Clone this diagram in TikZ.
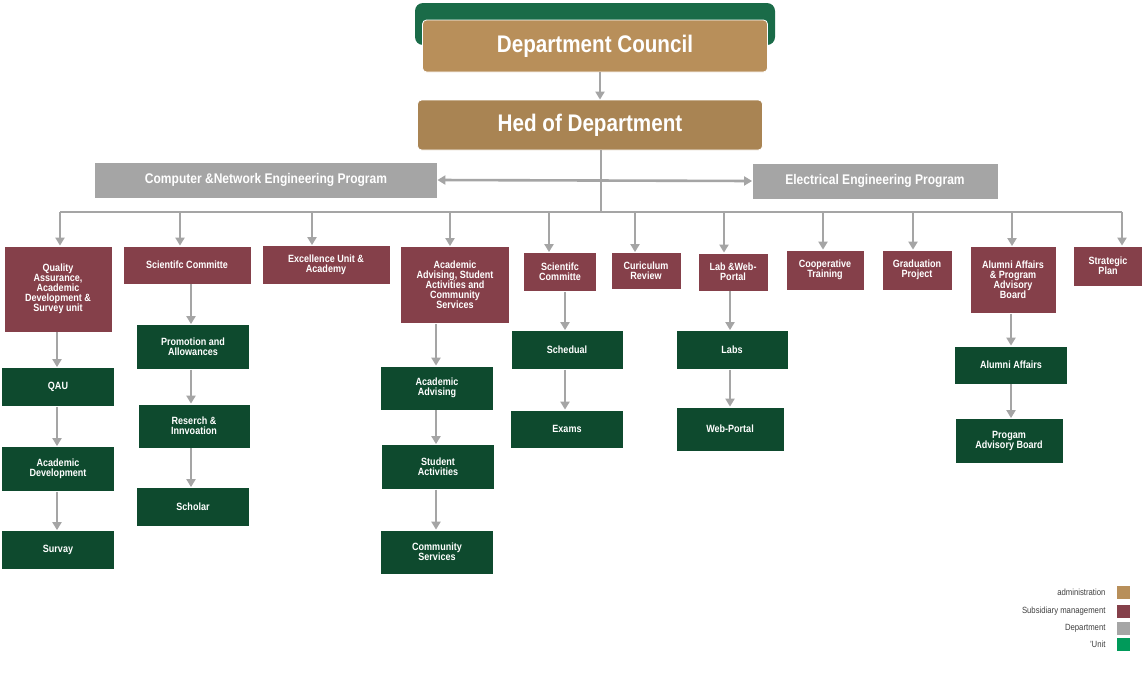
\documentclass[tikz,border=0pt]{standalone}
\usepackage{fontspec}
\setmainfont{Liberation Sans}[FakeStretch=0.86]
\usetikzlibrary{arrows.meta}
\definecolor{admin}{HTML}{B88F5A}
\definecolor{subs}{HTML}{85404A}
\definecolor{dept}{HTML}{A5A5A5}
\definecolor{unit}{HTML}{0E4A2E}
\definecolor{unitleg}{HTML}{009A5A}
\definecolor{topgreen}{HTML}{1A6B48}
\tikzset{
  box/.style={draw=white, line width=0.8pt, text=white, font=\bfseries\fontsize{10.5}{10}\selectfont, align=center, inner sep=1pt},
  sub/.style={box, fill=subs},
  un/.style={box, fill=unit},
  arr/.style={draw=dept, line width=2.6pt, -{Triangle[length=8pt,width=9pt]}},
}
\begin{document}
\begin{tikzpicture}[x=1pt,y=-1pt]
    \useasboundingbox[fill=white] (0,0) rectangle (1147,686);
    %top
    \fill[topgreen, rounded corners=8pt] (415,3) rectangle (775,45);
    \node[box, fill=admin, rounded corners=4pt, minimum width=345, minimum height=52, font=\bfseries\fontsize{24}{24}\selectfont] (council) at (595,46) {Department Council};
    \node[box, fill=admin!92!black, rounded corners=4pt, minimum width=345, minimum height=50, font=\bfseries\fontsize{24}{24}\selectfont] (head) at (590,125) {Hed of Department};
    \draw[arr] (council.south -| 600,0) -- (head.north -| 600,0);
    %programs
    \node[box, draw=none, fill=dept, minimum width=342, minimum height=35, font=\bfseries\fontsize{14}{14}\selectfont] (cne) at (266,180) {Computer \&Network Engineering Program};
    \node[box, draw=none, fill=dept, minimum width=245, minimum height=35, font=\bfseries\fontsize{14}{14}\selectfont] (ee) at (875,181) {Electrical Engineering Program};
    \coordinate (hub) at (601,212);
    \draw[dept, line width=2.6pt] (head.south -| hub) -- (hub);
    \draw[dept, line width=2.6pt] (60,212) -- (1122,212);
    \draw[draw=dept, line width=2.6pt, {Triangle[length=8pt,width=9pt]}-{Triangle[length=8pt,width=9pt]}] (cne.east) -- (ee.west);
    %subsidiary
    \node[sub, minimum width=108, minimum height=86] (qa) at (58,289) {Quality\\Assurance,\\Academic\\Development \&\\Survey unit};
    \node[sub, minimum width=128, minimum height=38] (sc1) at (187,265) {Scientifc Committe};
    \node[sub, minimum width=128, minimum height=39] (exc) at (326,265) {Excellence Unit \&\\Academy};
    \node[sub, minimum width=109, minimum height=77] (adv) at (455,285) {Academic\\Advising, Student\\Activities and\\Community\\Services};
    \node[sub, minimum width=73, minimum height=39] (sc2) at (560,272) {Scientifc\\Committe};
    \node[sub, minimum width=70, minimum height=37] (cur) at (646,271) {Curiculum\\Review};
    \node[sub, minimum width=70, minimum height=38] (lab) at (733,272) {Lab \&Web-\\Portal};
    \node[sub, minimum width=78, minimum height=40] (coop) at (825,270) {Cooperative\\Training};
    \node[sub, minimum width=70, minimum height=40] (grad) at (917,270) {Graduation\\Project};
    \node[sub, minimum width=86, minimum height=67] (alum) at (1013,280) {Alumni Affairs\\\& Program\\Advisory\\Board};
    \node[sub, minimum width=69, minimum height=40] (plan) at (1108,266) {Strategic\\Plan};
    \foreach \n/\x in {qa/60, sc1/180, exc/312, adv/450, sc2/549, cur/635, lab/724, coop/823, grad/913, alum/1012, plan/1122}{
        \coordinate (d\n) at (\x,212);
        \draw[arr] (d\n) -- (\n.north -| d\n);
    }
    %units
    \node[un, minimum width=113, minimum height=39] (qau) at (58,387) {QAU};
    \node[un, minimum width=113, minimum height=45] (acd) at (58,469) {Academic\\Development};
    \node[un, minimum width=113, minimum height=39] (surv) at (58,550) {Survay};
    \node[un, minimum width=113, minimum height=45] (prom) at (193,347) {Promotion and\\Allowances};
    \node[un, minimum width=112, minimum height=44] (res) at (194,426) {Reserch \&\\Innvoation};
    \node[un, minimum width=113, minimum height=39] (sch) at (193,507) {Scholar};
    \node[un, minimum width=113, minimum height=44] (aa) at (437,388) {Academic\\Advising};
    \node[un, minimum width=113, minimum height=45] (sa) at (438,467) {Student\\Activities};
    \node[un, minimum width=113, minimum height=44] (cs) at (437,552) {Community\\Services};
    \node[un, minimum width=112, minimum height=39] (sched) at (567,350) {Schedual};
    \node[un, minimum width=113, minimum height=38] (exam) at (567,429) {Exams};
    \node[un, minimum width=112, minimum height=39] (labs) at (732,350) {Labs};
    \node[un, minimum width=108, minimum height=44] (web) at (730,429) {Web-Portal};
    \node[un, minimum width=113, minimum height=38] (alu) at (1011,365) {Alumni Affairs};
    \node[un, minimum width=108, minimum height=45] (pab) at (1009,441) {Progam\\Advisory Board};
    \foreach \a/\b/\x in {qa/qau/57, qau/acd/57, acd/surv/57, sc1/prom/191, prom/res/191, res/sch/191, adv/aa/436, aa/sa/436, sa/cs/436, sc2/sched/565, sched/exam/565, lab/labs/730, labs/web/730, alum/alu/1011, alu/pab/1011}
        \draw[arr] (\a.south -| \x,0) -- (\b.north -| \x,0);
    %legend
    \foreach \t/\c/\y in {administration/admin/592, Subsidiary management/subs/611, Department/dept/628, {'Unit}/unitleg/644}{
        \node[fill=\c, minimum size=13, inner sep=0] (l\c) at (1123,\y) {};
        \node[anchor=east, text=black!75, font=\fontsize{9}{9}\selectfont] at (1109,\y) {\t};
    }
\end{tikzpicture}
\end{document}
